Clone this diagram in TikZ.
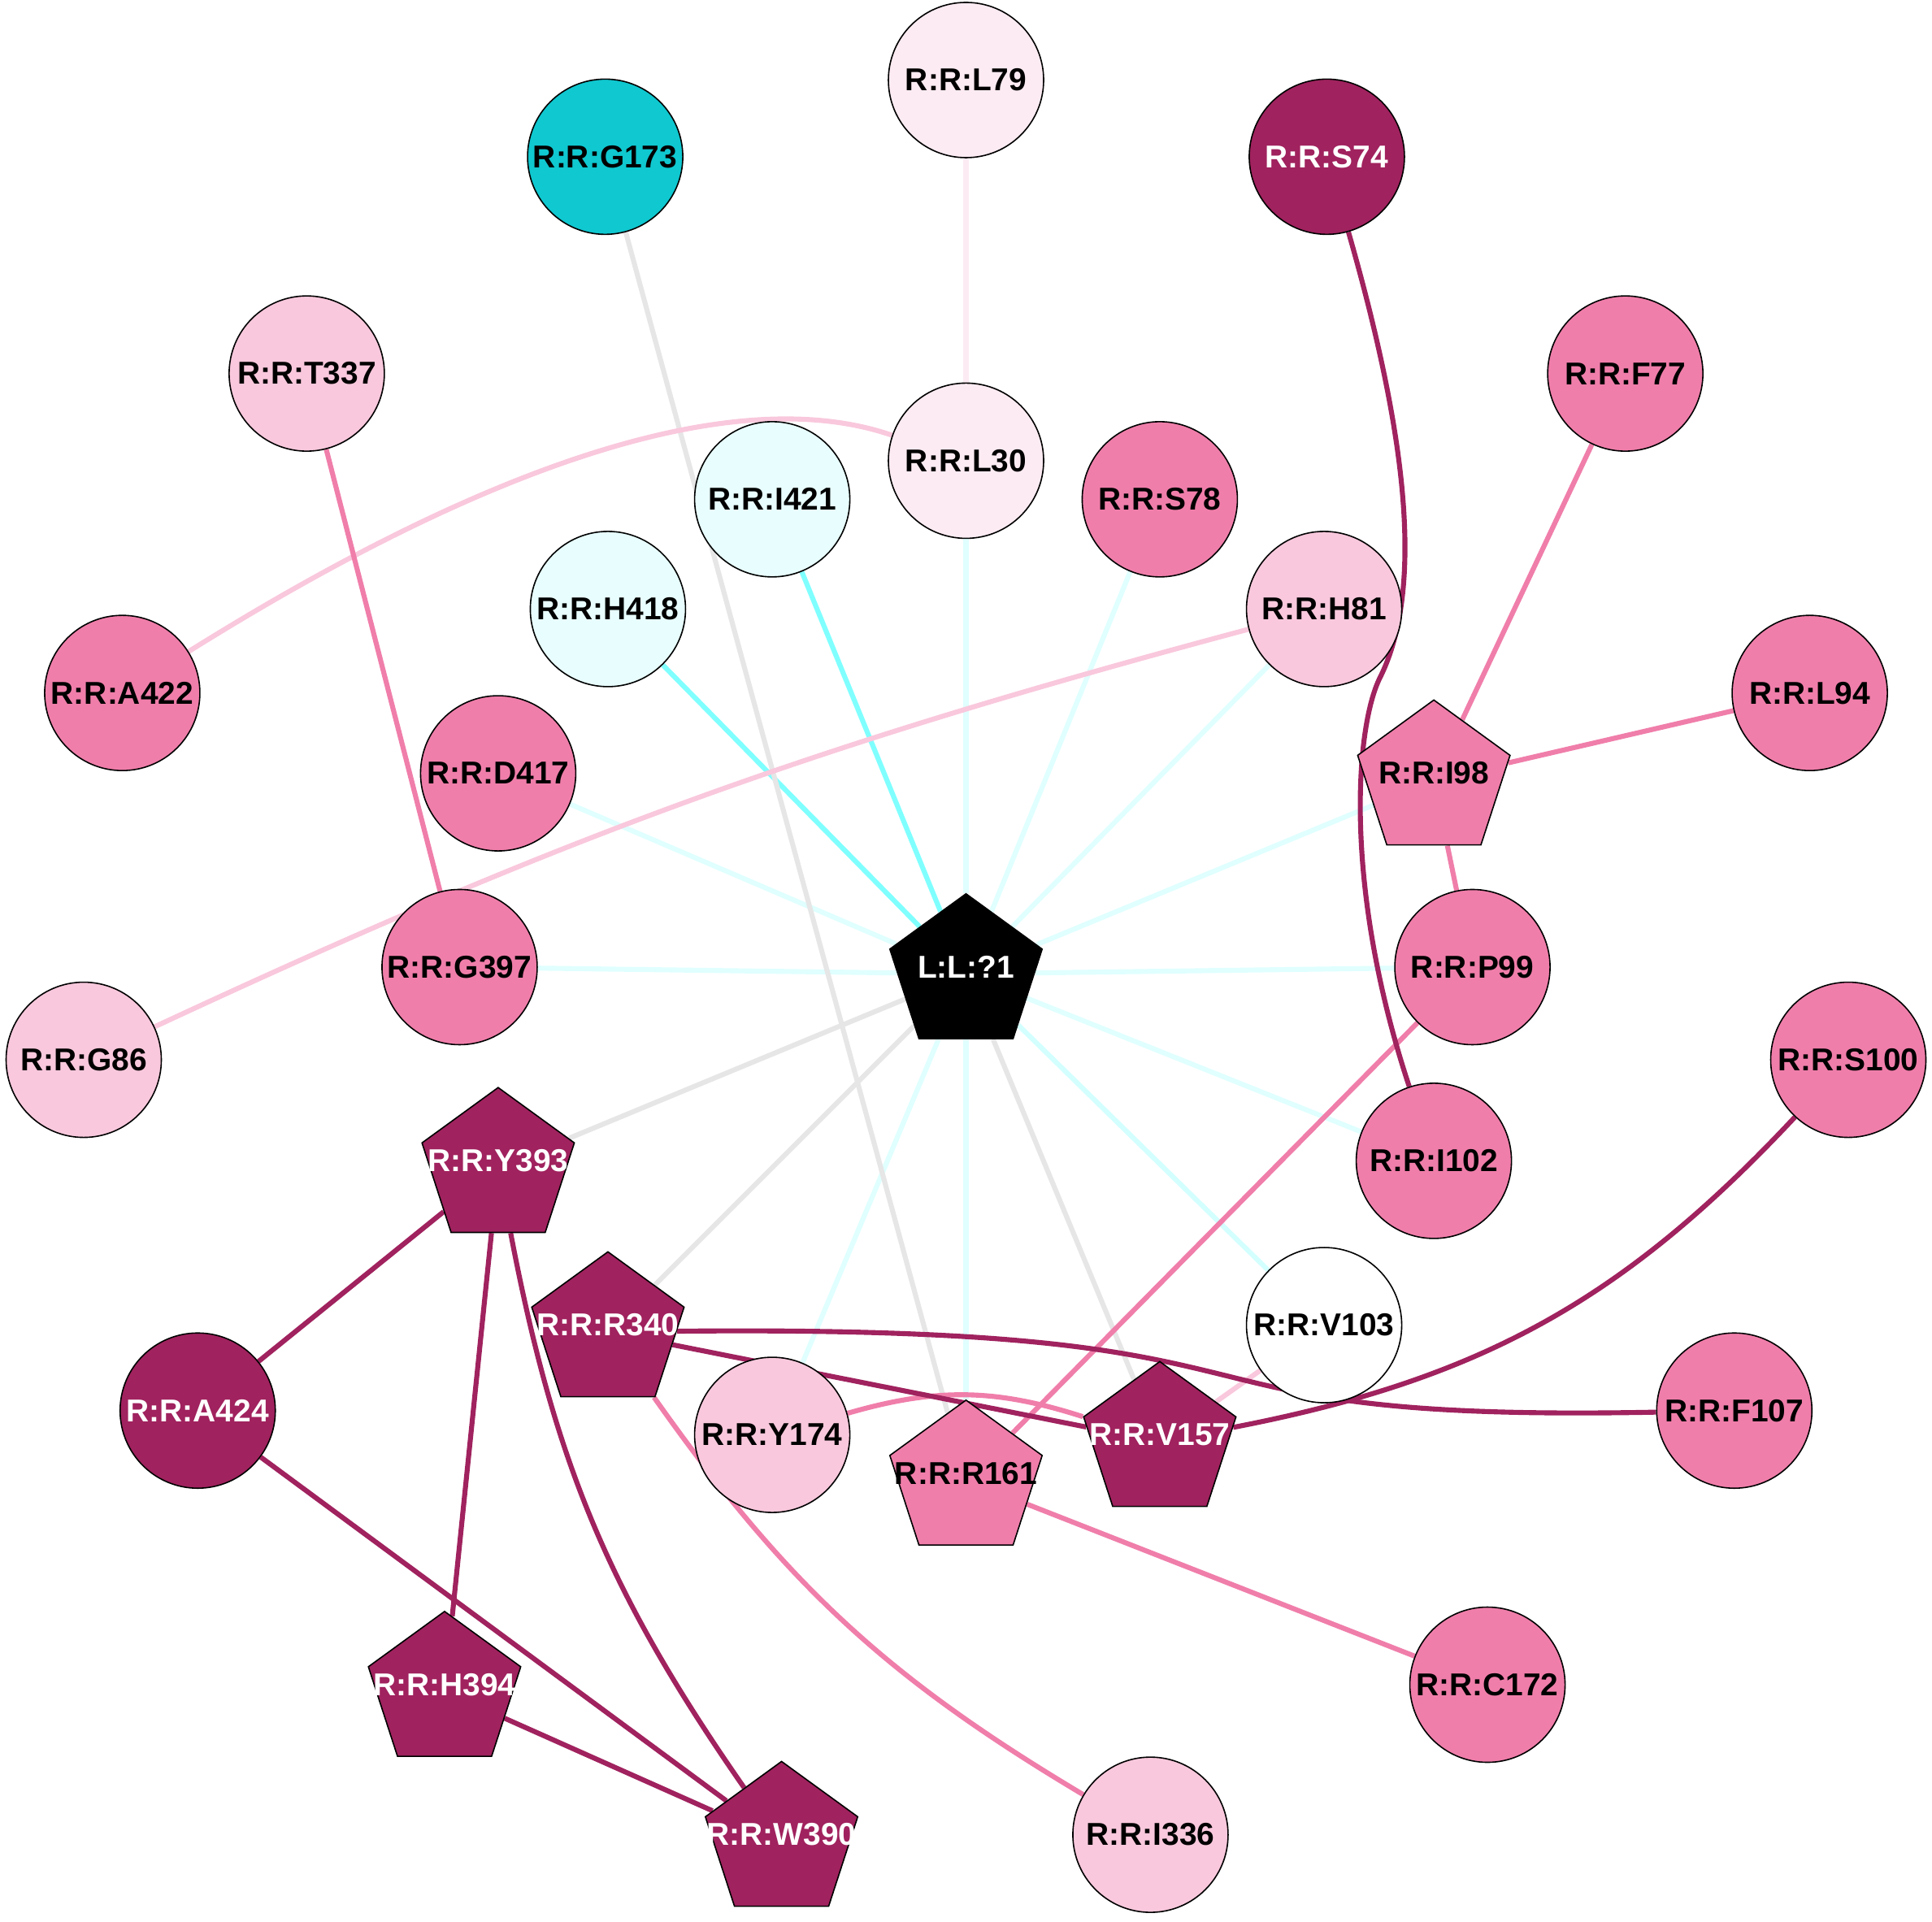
\documentclass[tikz,border=0pt]{standalone}
\usepackage{fontspec}
\setmainfont{Liberation Sans}
\usetikzlibrary{shapes.geometric, backgrounds}

\definecolor{darkres}{HTML}{A0225E}
\definecolor{pinkres}{HTML}{F07EAA}
\definecolor{lightres}{HTML}{F9C8DC}
\definecolor{paleres}{HTML}{FCEBF2}
\definecolor{cyanres}{HTML}{0FC8D0}
\definecolor{palecyan}{HTML}{E8FEFE}
\definecolor{cyanedge}{HTML}{80FFFF}
\definecolor{palecyanedge}{HTML}{E0FFFF}
\definecolor{grayedge}{HTML}{E6E6E6}

\begin{document}
\begin{tikzpicture}[shift={(7.84,7.75)},
  font=\bfseries\fontsize{7.3}{8.8}\selectfont,
  res/.style={circle, draw=black, line width=0.3pt, minimum size=1.26cm, inner sep=0pt},
  pent/.style={regular polygon, regular polygon sides=5, draw=black, line width=0.3pt,
    minimum size=1.30cm, inner sep=0pt, yshift=-0.55mm},
  txt/.style={yshift=0.55mm},
  edge/.style={line width=1.15pt}]

\useasboundingbox (-7.84,-7.75) rectangle (7.84,7.85);

% outer ring
\node[res, fill=paleres] (L79) at (90:7.2) {R:R:L79};
\node[res, fill=cyanres] (G173) at (114:7.2) {R:R:G173};
\node[res, fill=lightres] (T337) at (138:7.2) {R:R:T337};
\node[res, fill=pinkres] (A422) at (162:7.2) {R:R:A422};
\node[res, fill=lightres] (G86) at (186:7.2) {R:R:G86};
\node[res, fill=darkres, text=white] (A424) at (210:7.2) {R:R:A424};
\node[pent, fill=darkres, label={[txt,text=white]center:{R:R:H394}}] (H394) at (234:7.2) {};
\node[pent, fill=darkres, label={[txt,text=white]center:{R:R:W390}}] (W390) at (258:7.2) {};
\node[res, fill=lightres] (I336) at (282:7.2) {R:R:I336};
\node[res, fill=pinkres] (C172) at (306:7.2) {R:R:C172};
\node[res, fill=pinkres] (F107) at (330:7.2) {R:R:F107};
\node[res, fill=pinkres] (S100) at (354:7.2) {R:R:S100};
\node[res, fill=pinkres] (L94) at (18:7.2) {R:R:L94};
\node[res, fill=pinkres] (F77) at (42:7.2) {R:R:F77};
\node[res, fill=darkres, text=white] (S74) at (66:7.2) {R:R:S74};

% inner ring
\node[res, fill=paleres] (L30) at (90:4.11) {R:R:L30};
\node[res, fill=palecyan] (I421) at (112.5:4.11) {R:R:I421};
\node[res, fill=palecyan] (H418) at (135:4.11) {R:R:H418};
\node[res, fill=pinkres] (D417) at (157.5:4.11) {R:R:D417};
\node[res, fill=pinkres] (G397) at (180:4.11) {R:R:G397};
\node[pent, fill=darkres, label={[txt,text=white]center:{R:R:Y393}}] (Y393) at (202.5:4.11) {};
\node[pent, fill=darkres, label={[txt,text=white]center:{R:R:R340}}] (R340) at (225:4.11) {};
\node[res, fill=lightres] (Y174) at (247.5:4.11) {R:R:Y174};
\node[pent, fill=pinkres, label={[txt]center:{R:R:R161}}] (R161) at (270:4.11) {};
\node[pent, fill=darkres, label={[txt,text=white]center:{R:R:V157}}] (V157) at (292.5:4.11) {};
\node[res, fill=white] (V103) at (315:4.11) {R:R:V103};
\node[res, fill=pinkres] (I102) at (337.5:4.11) {R:R:I102};
\node[res, fill=pinkres] (P99) at (0:4.11) {R:R:P99};
\node[pent, fill=pinkres, label={[txt]center:{R:R:I98}}] (I98) at (22.5:4.11) {};
\node[res, fill=lightres] (H81) at (45:4.11) {R:R:H81};
\node[res, fill=pinkres] (S78) at (67.5:4.11) {R:R:S78};

% ligand
\node[pent, fill=black, label={[txt,text=white]center:{L:L:?1}}] (L1) at (0,0) {};

\begin{scope}[on background layer]
% ligand contacts
\draw[edge, palecyanedge] (L1) -- (L30);
\draw[edge, palecyanedge] (L1) -- (S78);
\draw[edge, palecyanedge] (L1) -- (H81);
\draw[edge, palecyanedge] (L1) -- (I98);
\draw[edge, palecyanedge] (L1) -- (P99);
\draw[edge, palecyanedge] (L1) -- (I102);
\draw[edge, cyanedge!35] (L1) -- (V103);
\draw[edge, palecyanedge] (L1) -- (R161);
\draw[edge, palecyanedge] (L1) -- (Y174);
\draw[edge, palecyanedge] (L1) -- (G397);
\draw[edge, palecyanedge] (L1) -- (D417);
\draw[edge, cyanedge] (L1) -- (H418);
\draw[edge, cyanedge] (L1) -- (I421);
\draw[edge, grayedge] (L1) -- (Y393);
\draw[edge, grayedge] (L1) -- (R340);
\draw[edge, grayedge] (L1) -- (V157);
\draw[edge, grayedge] (G173) -- (R161);

% residue contacts
\draw[edge, paleres] (L79) -- (L30);
\draw[edge, lightres] (A422) to[out=32, in=161, looseness=0.75] (L30);
\draw[edge, lightres] (G86) to[bend left=5] (H81);
\draw[edge, lightres] (V103) -- (V157);
\draw[edge, pinkres] (T337) -- (G397);
\draw[edge, pinkres] (F77) -- (I98);
\draw[edge, pinkres] (L94) -- (I98);
\draw[edge, pinkres] (I98) -- (P99);
\draw[edge, pinkres] (P99) -- (R161);
\draw[edge, pinkres] (R161) -- (C172);
\draw[edge, pinkres] (R340) to[bend right=12] (I336);
\draw[edge, pinkres] (Y174) to[bend left=17] (V157);
\draw[edge, darkres] (S74) .. controls (3.51,4.55) and (3.76,3.15) .. (3.36,2.35)
  .. controls (3.16,1.95) and (3.06,0.65) .. (I102);
\draw[edge, darkres] (R340) .. controls (3.16,-2.90) and (1.16,-3.70) .. (F107);
\draw[edge, darkres] (V157) to[bend right=18] (S100);
\draw[edge, darkres] (R340) -- (V157);
\draw[edge, darkres] (Y393) -- (A424);
\draw[edge, darkres] (Y393) -- (H394);
\draw[edge, darkres] (Y393) to[bend right=12] (W390);
\draw[edge, darkres] (A424) -- (W390);
\draw[edge, darkres] (H394) -- (W390);
\end{scope}
\end{tikzpicture}
\end{document}
